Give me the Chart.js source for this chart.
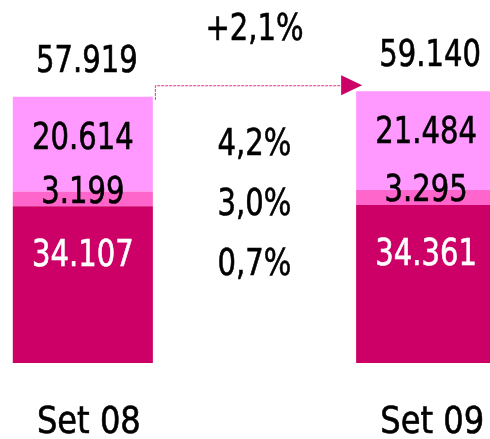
<!DOCTYPE html>
<html>
<head>
<meta charset="utf-8">
<script src="https://cdn.jsdelivr.net/npm/chart.js@4/dist/chart.umd.min.js"></script>
<style>
  html, body { margin: 0; padding: 0; background: #fff; overflow: hidden; }
  #wrap { position: absolute; left: -3px; top: 0; width: 515px; height: 439px; }
</style>
</head>
<body>
<div id="wrap"><canvas id="chart"></canvas></div>
<script>
// Chart data
const categories = ['Set 08', '', 'Set 09']
const baseValues = [34107, null, 34361]
const midValues = [3199, null, 3295]
const topValues = [20614, null, 21484]
const totals = [57919, null, 59140]
const changeLabels = ['4,2%', '3,0%', '0,7%']
const totalChange = '+2,1%'

const FONT = "'DejaVu Sans Condensed', 'DejaVu Sans', sans-serif"

function fmt(n) {
  return n.toLocaleString('de-DE')
}

// narrow text: the original face is more condensed than anything installed
function drawText(ctx, text, x, y, sx) {
  ctx.save()
  ctx.translate(x, y)
  ctx.scale(sx || 0.85, 1)
  ctx.strokeStyle = ctx.fillStyle
  ctx.lineWidth = 0.6
  ctx.fillText(text, 0, 0)
  ctx.strokeText(text, 0, 0)
  ctx.restore()
}

// Draws value labels, x labels, change percentages and the arrow
const labelPlugin = {
  id: 'labels',
  afterDatasetsDraw(chart) {
    const ctx = chart.ctx
    const x = chart.scales.x
    const y = chart.scales.y
    ctx.save()
    ctx.textAlign = 'center'
    ctx.textBaseline = 'alphabetic'
    ctx.font = '38px ' + FONT

    categories.forEach((cat, i) => {
      if (totals[i] == null) return
      const cx = x.getPixelForValue(i)
      const topY = y.getPixelForValue(totals[i])
      const midTop = y.getPixelForValue(baseValues[i] + midValues[i])
      const baseTop = y.getPixelForValue(baseValues[i])

      ctx.fillStyle = '#000'
      drawText(ctx, fmt(totals[i]), cx + 4, topY - 25)
      drawText(ctx, fmt(topValues[i]), cx, topY + 52)
      drawText(ctx, fmt(midValues[i]), cx, midTop + 11)
      ctx.fillStyle = '#fff'
      drawText(ctx, fmt(baseValues[i]), cx, baseTop + 60)
      ctx.fillStyle = '#000'
      drawText(ctx, cat, cx + 6, 433, 0.94)
    })

    // percentages in the middle column
    const mx = x.getPixelForValue(1)
    ctx.fillStyle = '#000'
    drawText(ctx, totalChange, mx, 40)
    changeLabels.forEach((t, k) => {
      drawText(ctx, t, mx, 155 + k * 60)
    })

    // dashed arrow from first bar top to second bar top
    const meta = chart.getDatasetMeta(2)
    const b1 = meta.data[0]
    const b2 = meta.data[2]
    const sx = b1.x + b1.width / 2 + 2
    const ly = b2.y - 6
    const ex = b2.x - b2.width / 2 - 15
    ctx.strokeStyle = '#d6338a'
    ctx.lineWidth = 1
    ctx.setLineDash([3, 1])
    ctx.beginPath()
    ctx.moveTo(sx + 0.5, b1.y + 3)
    ctx.lineTo(sx + 0.5, ly + 0.5)
    ctx.lineTo(ex, ly + 0.5)
    ctx.stroke()
    ctx.setLineDash([])
    ctx.fillStyle = '#cc0066'
    ctx.beginPath()
    ctx.moveTo(ex, ly - 10)
    ctx.lineTo(ex + 21, ly)
    ctx.lineTo(ex, ly + 10)
    ctx.closePath()
    ctx.fill()
    ctx.restore()
  }
}

new Chart(document.getElementById('chart'), {
  type: 'bar',
  data: {
    labels: categories,
    datasets: [
      { data: baseValues, backgroundColor: '#cc0066' },
      { data: midValues, backgroundColor: '#ff66cc' },
      { data: topValues, backgroundColor: '#ff99ff' }
    ]
  },
  options: {
    responsive: true,
    maintainAspectRatio: false,
    animation: false,
    layout: { padding: { top: 0, bottom: 76, left: 0, right: 0 } },
    datasets: {
      bar: { barPercentage: 0.816, categoryPercentage: 1, borderWidth: 0 }
    },
    plugins: {
      legend: { display: false },
      tooltip: { enabled: false }
    },
    scales: {
      x: { stacked: true, display: false },
      y: { stacked: true, display: false, min: 0, max: 79000 }
    }
  },
  plugins: [labelPlugin]
})
</script>
</body>
</html>
